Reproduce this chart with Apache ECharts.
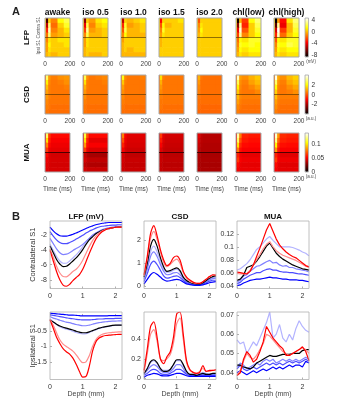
<!DOCTYPE html>
<html>
<head>
<meta charset="utf-8">
<script src="https://cdn.jsdelivr.net/npm/echarts@6.0.0/dist/echarts.min.js"></script>
<style>
  html, body { margin: 0; padding: 0; background: #fff; }
  #chart { width: 354px; height: 400px; }
</style>
</head>
<body>
<div id="chart"></div>
<script>
const conditions = ["awake", "iso 0.5", "iso 1.0", "iso 1.5", "iso 2.0", "chl(low)", "chl(high)"];
const lineColors = ["#000000", "#b3b3ff", "#8080ff", "#4d4dff", "#0000ff", "#ff8c8c", "#ff0000"];
const drawOrder = [1, 2, 3, 4, 0, 5, 6];

// time bin edges (ms) of the heatmap cells; rows 0-3 contra S1, rows 4-7 ipsi S1
const timeEdges = [0, 8, 25, 45, 100, 150, 200];

const lfpMaps = [
  [[0.5,-7.5,0.5,-1.0,1.5,2.5],[0.5,-5.0,3.0,-1.5,0.5,2.0],[0.5,-3.0,4.0,-1.0,0.0,1.0],[0.0,-1.5,3.0,-0.5,0.0,0.5],
   [0.0,-1.0,1.0,0.5,1.0,1.0],[0.0,-0.5,1.5,0.5,0.5,1.0],[0.0,-0.5,1.0,0.5,0.5,0.5],[0.0,0.0,0.5,0.0,0.5,0.5]],
  [[0.5,-6.0,0.5,-0.5,1.0,1.5],[0.5,-4.0,2.5,-1.0,0.5,1.0],[0.5,-2.5,3.5,-0.5,0.0,0.5],[0.0,-1.0,2.5,0.0,0.0,0.5],
   [0.0,-0.5,1.0,0.5,0.5,0.5],[0.0,-0.5,1.0,0.5,0.5,0.5],[0.0,0.0,0.5,0.5,0.5,0.5],[0.0,0.0,0.5,0.0,0.0,0.5]],
  [[0.5,-5.0,0.5,0.0,0.5,1.0],[0.5,-3.0,2.0,-0.5,0.0,0.5],[0.5,-2.0,2.5,0.0,0.0,0.5],[0.0,-1.0,1.5,0.0,0.0,0.0],
   [0.0,-0.5,0.5,0.5,0.5,0.5],[0.0,0.0,0.5,0.5,0.5,0.5],[0.0,0.0,0.5,0.0,0.5,0.5],[0.0,0.0,0.0,0.0,0.0,0.0]],
  [[0.5,-3.5,0.5,0.5,0.5,1.0],[0.5,-2.0,1.5,0.0,0.5,0.5],[0.5,-1.0,2.0,0.5,0.5,0.5],[0.5,-0.5,1.0,0.5,0.5,0.5],
   [0.5,0.0,0.5,0.5,0.5,0.5],[0.5,0.0,0.5,0.5,0.5,0.5],[0.5,0.5,0.5,0.5,0.5,0.5],[0.5,0.5,0.5,0.5,0.5,0.5]],
  [[0.5,-2.0,0.5,0.5,0.5,0.5],[0.5,-1.0,1.0,0.5,0.5,0.5],[0.5,-0.5,1.5,0.5,0.5,0.5],[0.5,0.0,1.0,0.5,0.5,0.5],
   [0.5,0.5,0.5,0.5,0.5,0.5],[0.5,0.5,0.5,0.5,0.5,0.5],[0.5,0.5,0.5,0.5,0.5,0.5],[0.5,0.5,0.5,0.5,0.5,0.5]],
  [[0.5,-8.5,0.0,-2.5,1.5,3.0],[0.5,-6.0,3.5,-3.0,0.5,2.5],[0.5,-4.0,4.5,-2.0,0.5,2.0],[0.0,-2.5,3.5,-1.0,0.5,1.5],
   [0.0,-1.5,1.5,1.0,2.0,2.0],[0.0,-1.0,2.0,1.5,2.0,1.5],[0.0,-0.5,1.5,1.0,1.5,1.5],[0.0,0.0,1.0,0.5,1.0,1.0]],
  [[0.5,-9.0,-0.5,-3.5,1.0,3.0],[0.5,-7.0,3.5,-4.0,0.0,2.5],[0.5,-4.5,4.8,-2.5,0.0,2.0],[0.0,-3.0,4.0,-1.5,0.5,1.5],
   [0.0,-2.0,1.5,1.0,2.0,2.0],[0.0,-1.0,2.0,1.5,2.5,2.0],[0.0,-0.5,1.5,1.0,1.5,1.5],[0.0,0.0,1.0,0.5,1.0,1.0]]
];

const csdMaps = [
  [[0.5,3.0,0.9,0.6,0.8,0.9],[0.5,2.0,0.7,0.5,0.6,0.8],[0.5,1.4,0.6,0.5,0.5,0.6],[0.5,1.0,0.6,0.5,0.5,0.5],
   [0.5,0.9,0.6,0.5,0.5,0.5],[0.5,0.7,0.5,0.5,0.5,0.5],[0.4,0.6,0.5,0.4,0.4,0.4],[0.4,0.5,0.4,0.4,0.4,0.4]],
  [[0.5,2.8,0.8,0.5,0.6,0.7],[0.5,1.8,0.6,0.5,0.5,0.6],[0.5,1.2,0.6,0.5,0.5,0.5],[0.5,0.9,0.5,0.5,0.5,0.5],
   [0.5,0.8,0.5,0.5,0.5,0.5],[0.5,0.6,0.5,0.5,0.5,0.5],[0.4,0.5,0.4,0.4,0.4,0.4],[0.4,0.5,0.4,0.4,0.4,0.4]],
  [[0.5,2.3,0.7,0.5,0.5,0.6],[0.5,1.5,0.6,0.5,0.5,0.5],[0.5,1.0,0.5,0.5,0.5,0.5],[0.5,0.8,0.5,0.5,0.5,0.5],
   [0.5,0.7,0.5,0.5,0.5,0.5],[0.5,0.6,0.5,0.5,0.5,0.5],[0.4,0.5,0.4,0.4,0.4,0.4],[0.4,0.4,0.4,0.4,0.4,0.4]],
  [[0.5,1.8,0.6,0.5,0.5,0.5],[0.5,1.2,0.5,0.5,0.5,0.5],[0.5,0.9,0.5,0.5,0.5,0.5],[0.5,0.7,0.5,0.5,0.5,0.5],
   [0.5,0.6,0.5,0.5,0.5,0.5],[0.5,0.5,0.5,0.5,0.5,0.5],[0.4,0.5,0.4,0.4,0.4,0.4],[0.4,0.4,0.4,0.4,0.4,0.4]],
  [[0.4,1.2,0.5,0.4,0.4,0.4],[0.4,0.9,0.4,0.4,0.4,0.4],[0.4,0.7,0.4,0.4,0.4,0.4],[0.4,0.6,0.4,0.4,0.4,0.4],
   [0.4,0.5,0.4,0.4,0.4,0.4],[0.4,0.4,0.4,0.4,0.4,0.4],[0.3,0.4,0.3,0.3,0.3,0.3],[0.3,0.3,0.3,0.3,0.3,0.3]],
  [[0.5,3.8,1.0,0.8,1.2,1.5],[0.5,2.8,0.8,0.6,1.0,1.3],[0.5,2.0,0.7,0.5,0.7,1.0],[0.5,1.5,0.6,0.5,0.5,0.7],
   [0.5,1.3,0.7,0.6,0.6,0.6],[0.5,1.0,0.6,0.5,0.5,0.5],[0.4,0.7,0.5,0.4,0.4,0.4],[0.4,0.6,0.4,0.4,0.4,0.4]],
  [[0.5,4.0,1.1,0.8,1.3,1.6],[0.5,3.0,0.9,0.6,1.1,1.4],[0.5,2.2,0.7,0.5,0.8,1.1],[0.5,1.6,0.6,0.5,0.6,0.8],
   [0.5,1.4,0.7,0.6,0.6,0.6],[0.5,1.0,0.6,0.5,0.5,0.5],[0.4,0.8,0.5,0.4,0.4,0.4],[0.4,0.6,0.4,0.4,0.4,0.4]]
];

const muaMaps = [
  [[0.05,0.12,0.065,0.055,0.055,0.055],[0.05,0.1,0.06,0.052,0.052,0.052],[0.048,0.08,0.055,0.05,0.05,0.05],[0.046,0.065,0.05,0.048,0.048,0.048],
   [0.044,0.055,0.046,0.044,0.044,0.044],[0.045,0.05,0.046,0.045,0.045,0.045],[0.044,0.048,0.045,0.044,0.044,0.044],[0.045,0.047,0.045,0.045,0.045,0.045]],
  [[0.05,0.115,0.07,0.055,0.055,0.055],[0.046,0.1,0.06,0.048,0.048,0.048],[0.05,0.085,0.056,0.052,0.052,0.052],[0.045,0.065,0.05,0.046,0.046,0.046],
   [0.035,0.042,0.037,0.035,0.035,0.035],[0.04,0.045,0.041,0.04,0.04,0.04],[0.037,0.04,0.038,0.037,0.037,0.037],[0.042,0.044,0.042,0.042,0.042,0.042]],
  [[0.045,0.08,0.052,0.047,0.047,0.047],[0.045,0.07,0.05,0.046,0.046,0.046],[0.044,0.06,0.048,0.045,0.045,0.045],[0.043,0.052,0.045,0.043,0.043,0.043],
   [0.04,0.045,0.041,0.04,0.04,0.04],[0.042,0.045,0.042,0.042,0.042,0.042],[0.041,0.043,0.041,0.041,0.041,0.041],[0.042,0.043,0.042,0.042,0.042,0.042]],
  [[0.043,0.065,0.047,0.044,0.044,0.044],[0.043,0.058,0.046,0.043,0.043,0.043],[0.042,0.052,0.044,0.042,0.042,0.042],[0.041,0.047,0.042,0.041,0.041,0.041],
   [0.039,0.042,0.039,0.039,0.039,0.039],[0.04,0.042,0.04,0.04,0.04,0.04],[0.039,0.041,0.039,0.039,0.039,0.039],[0.04,0.041,0.04,0.04,0.04,0.04]],
  [[0.038,0.048,0.04,0.038,0.038,0.038],[0.038,0.045,0.039,0.038,0.038,0.038],[0.037,0.042,0.038,0.037,0.037,0.037],[0.037,0.04,0.037,0.037,0.037,0.037],
   [0.035,0.037,0.035,0.035,0.035,0.035],[0.036,0.037,0.036,0.036,0.036,0.036],[0.035,0.036,0.035,0.035,0.035,0.035],[0.036,0.037,0.036,0.036,0.036,0.036]],
  [[0.055,0.13,0.08,0.06,0.058,0.058],[0.055,0.12,0.07,0.058,0.056,0.056],[0.052,0.1,0.062,0.055,0.054,0.054],[0.05,0.08,0.056,0.052,0.052,0.052],
   [0.048,0.06,0.05,0.048,0.048,0.048],[0.05,0.065,0.052,0.05,0.05,0.05],[0.048,0.055,0.049,0.048,0.048,0.048],[0.049,0.052,0.049,0.049,0.049,0.049]],
  [[0.056,0.135,0.085,0.062,0.06,0.06],[0.055,0.125,0.075,0.06,0.058,0.058],[0.053,0.105,0.065,0.056,0.055,0.055],[0.05,0.085,0.058,0.052,0.052,0.052],
   [0.047,0.06,0.05,0.047,0.047,0.047],[0.05,0.066,0.052,0.05,0.05,0.05],[0.047,0.055,0.048,0.047,0.047,0.047],[0.048,0.052,0.048,0.048,0.048,0.048]]
];

// panel B: depth profiles (mm), one array per condition in the order of `conditions`
const depth = [0, 0.1, 0.2, 0.3, 0.4, 0.5, 0.6, 0.7, 0.8, 0.9, 1.0, 1.1, 1.2, 1.3, 1.4, 1.5, 1.6, 1.7, 1.8, 1.9, 2.0, 2.1, 2.2];

const lfpContra = [
  [-3.5,-4.4,-5.3,-5.9,-6.25,-6.2,-5.9,-5.5,-5.1,-4.6,-4.0,-3.3,-2.7,-2.3,-1.9,-1.65,-1.45,-1.3,-1.2,-1.1,-1.05,-1.0,-1.0],
  [-3.3,-4.1,-4.9,-5.5,-5.8,-5.8,-5.5,-5.1,-4.7,-4.2,-3.6,-3.0,-2.5,-2.1,-1.8,-1.55,-1.4,-1.25,-1.15,-1.1,-1.0,-1.0,-0.95],
  [-2.5,-3.2,-3.9,-4.4,-4.65,-4.6,-4.4,-4.1,-3.85,-3.6,-3.3,-2.9,-2.5,-2.1,-1.8,-1.55,-1.35,-1.2,-1.1,-1.0,-0.95,-0.9,-0.9],
  [-1.6,-2.2,-2.7,-3.05,-3.2,-3.2,-3.05,-2.85,-2.6,-2.35,-2.1,-1.8,-1.55,-1.35,-1.15,-1.0,-0.9,-0.85,-0.8,-0.75,-0.75,-0.7,-0.7],
  [-1.0,-1.5,-1.9,-2.15,-2.2,-2.2,-2.1,-1.95,-1.8,-1.6,-1.4,-1.2,-1.0,-0.85,-0.7,-0.6,-0.5,-0.45,-0.4,-0.4,-0.4,-0.4,-0.4],
  [-3.9,-5.0,-6.2,-7.1,-7.55,-7.6,-7.3,-6.9,-6.6,-6.1,-5.4,-4.5,-3.6,-2.8,-2.2,-1.8,-1.5,-1.3,-1.2,-1.1,-1.05,-1.0,-1.0],
  [-4.1,-5.5,-6.9,-8.0,-8.7,-8.85,-8.6,-8.1,-7.7,-7.3,-6.6,-5.6,-4.5,-3.5,-2.6,-2.0,-1.6,-1.35,-1.2,-1.1,-1.05,-1.0,-1.0]
];
const csdContra = [
  [0.4,1.0,1.75,2.05,1.75,1.25,0.85,0.65,0.68,0.75,0.8,0.68,0.4,0.25,0.17,0.12,0.1,0.1,0.15,0.25,0.35,0.42,0.45],
  [0.35,0.85,1.5,1.75,1.5,1.1,0.75,0.6,0.62,0.7,0.75,0.62,0.38,0.22,0.15,0.1,0.08,0.08,0.13,0.22,0.3,0.38,0.4],
  [0.3,0.75,1.3,1.5,1.3,0.95,0.65,0.5,0.52,0.58,0.6,0.5,0.32,0.2,0.13,0.09,0.07,0.07,0.12,0.2,0.28,0.33,0.35],
  [0.2,0.55,0.95,1.1,0.95,0.7,0.45,0.35,0.38,0.43,0.45,0.38,0.25,0.15,0.1,0.07,0.06,0.06,0.1,0.15,0.22,0.26,0.26],
  [0.1,0.3,0.5,0.6,0.52,0.4,0.28,0.22,0.24,0.28,0.3,0.27,0.18,0.1,0.07,0.05,0.04,0.04,0.06,0.1,0.15,0.18,0.2],
  [0.45,1.2,2.1,2.4,2.05,1.5,1.05,0.85,0.95,1.1,1.18,1.0,0.6,0.35,0.22,0.15,0.12,0.12,0.2,0.3,0.4,0.48,0.5],
  [0.5,1.3,2.3,2.65,2.2,1.6,1.15,0.9,1.0,1.25,1.32,1.15,0.65,0.4,0.27,0.18,0.13,0.12,0.2,0.3,0.42,0.5,0.48]
];
const muaContra = [
  [0.048,0.05,0.056,0.068,0.07,0.072,0.078,0.085,0.093,0.101,0.106,0.098,0.09,0.085,0.081,0.078,0.075,0.072,0.07,0.068,0.066,0.065,0.064],
  [0.064,0.066,0.07,0.074,0.08,0.088,0.096,0.1,0.106,0.112,0.116,0.11,0.105,0.1,0.1,0.1,0.1,0.099,0.097,0.095,0.092,0.09,0.086],
  [0.046,0.048,0.055,0.057,0.062,0.066,0.07,0.071,0.074,0.077,0.079,0.075,0.076,0.072,0.07,0.071,0.068,0.068,0.066,0.065,0.064,0.063,0.061],
  [0.043,0.045,0.05,0.053,0.056,0.058,0.06,0.06,0.063,0.065,0.066,0.064,0.064,0.062,0.061,0.061,0.06,0.06,0.059,0.058,0.058,0.057,0.056],
  [0.04,0.041,0.044,0.046,0.048,0.049,0.05,0.05,0.051,0.052,0.053,0.052,0.052,0.051,0.05,0.05,0.049,0.049,0.049,0.048,0.048,0.047,0.046],
  [0.059,0.058,0.058,0.059,0.064,0.072,0.08,0.088,0.097,0.104,0.108,0.1,0.094,0.09,0.087,0.085,0.083,0.081,0.079,0.076,0.073,0.07,0.068],
  [0.061,0.06,0.059,0.058,0.062,0.072,0.085,0.098,0.112,0.126,0.136,0.124,0.112,0.103,0.097,0.092,0.088,0.085,0.083,0.079,0.075,0.071,0.069]
];
const lfpIpsi = [
  [-0.12,-0.2,-0.27,-0.33,-0.37,-0.4,-0.43,-0.46,-0.5,-0.53,-0.55,-0.55,-0.52,-0.48,-0.44,-0.4,-0.37,-0.35,-0.33,-0.31,-0.3,-0.3,-0.3],
  [-0.1,-0.2,-0.28,-0.35,-0.4,-0.43,-0.46,-0.5,-0.54,-0.57,-0.59,-0.58,-0.54,-0.49,-0.45,-0.41,-0.38,-0.36,-0.34,-0.32,-0.31,-0.3,-0.3],
  [-0.02,-0.07,-0.1,-0.14,-0.17,-0.2,-0.22,-0.25,-0.28,-0.3,-0.32,-0.32,-0.3,-0.27,-0.24,-0.22,-0.2,-0.19,-0.18,-0.17,-0.17,-0.16,-0.16],
  [0.04,0.02,0.0,-0.02,-0.04,-0.06,-0.08,-0.09,-0.11,-0.12,-0.13,-0.13,-0.13,-0.12,-0.11,-0.1,-0.1,-0.09,-0.09,-0.09,-0.08,-0.08,-0.08],
  [0.09,0.08,0.07,0.06,0.05,0.04,0.03,0.03,0.02,0.01,0.0,0.0,0.0,0.0,0.0,0.0,0.0,0.0,0.01,0.01,0.01,0.01,0.01],
  [-0.1,-0.3,-0.55,-0.78,-0.92,-1.0,-1.07,-1.15,-1.27,-1.42,-1.53,-1.5,-1.3,-1.0,-0.78,-0.66,-0.6,-0.57,-0.55,-0.54,-0.53,-0.52,-0.52],
  [-0.13,-0.4,-0.7,-0.9,-1.07,-1.17,-1.25,-1.38,-1.58,-1.82,-2.0,-1.98,-1.65,-1.15,-0.85,-0.72,-0.67,-0.64,-0.63,-0.62,-0.61,-0.6,-0.6]
];
const csdIpsi = [
  [0.05,0.1,0.17,0.19,0.16,0.1,0.07,0.07,0.09,0.14,0.19,0.19,0.14,0.07,0.04,0.04,0.03,0.04,0.05,0.04,0.04,0.05,0.05],
  [0.05,0.1,0.16,0.18,0.15,0.1,0.08,0.08,0.09,0.14,0.18,0.18,0.13,0.07,0.04,0.04,0.04,0.05,0.06,0.05,0.04,0.05,0.05],
  [0.04,0.08,0.12,0.14,0.12,0.08,0.06,0.06,0.07,0.1,0.14,0.14,0.1,0.05,0.04,0.03,0.03,0.04,0.04,0.04,0.04,0.04,0.04],
  [0.03,0.05,0.08,0.09,0.08,0.05,0.04,0.04,0.05,0.07,0.09,0.09,0.07,0.04,0.03,0.03,0.02,0.03,0.03,0.03,0.03,0.03,0.03],
  [0.01,0.03,0.04,0.05,0.045,0.03,0.025,0.025,0.03,0.04,0.05,0.05,0.04,0.025,0.02,0.02,0.02,0.02,0.02,0.02,0.02,0.02,0.02],
  [0.06,0.25,0.45,0.5,0.38,0.2,0.18,0.2,0.24,0.36,0.56,0.62,0.4,0.16,0.08,0.06,0.05,0.07,0.1,0.07,0.07,0.08,0.08],
  [0.08,0.3,0.53,0.58,0.42,0.2,0.15,0.22,0.27,0.42,0.66,0.68,0.45,0.18,0.09,0.06,0.05,0.06,0.13,0.07,0.08,0.08,0.09]
];
const muaIpsi = [
  [0.044,0.044,0.043,0.0425,0.042,0.043,0.045,0.046,0.047,0.048,0.049,0.0485,0.0485,0.049,0.0495,0.0495,0.0495,0.05,0.05,0.05,0.0515,0.052,0.052],
  [0.057,0.055,0.056,0.05,0.053,0.056,0.054,0.058,0.062,0.066,0.0715,0.058,0.06,0.065,0.058,0.056,0.06,0.057,0.063,0.067,0.064,0.062,0.061],
  [0.043,0.045,0.044,0.042,0.043,0.044,0.045,0.044,0.046,0.047,0.046,0.047,0.045,0.046,0.047,0.046,0.047,0.046,0.047,0.046,0.047,0.048,0.047],
  [0.042,0.044,0.042,0.041,0.042,0.043,0.042,0.043,0.044,0.045,0.044,0.045,0.044,0.045,0.044,0.045,0.046,0.045,0.046,0.045,0.046,0.047,0.046],
  [0.04,0.041,0.04,0.039,0.04,0.041,0.04,0.041,0.042,0.041,0.042,0.043,0.042,0.043,0.042,0.043,0.044,0.043,0.044,0.044,0.043,0.046,0.045],
  [0.039,0.041,0.046,0.05,0.048,0.047,0.049,0.052,0.055,0.06,0.059,0.057,0.055,0.053,0.051,0.05,0.049,0.05,0.051,0.052,0.053,0.052,0.05],
  [0.0385,0.04,0.047,0.051,0.049,0.0455,0.047,0.051,0.056,0.064,0.061,0.058,0.056,0.054,0.0525,0.049,0.049,0.05,0.051,0.052,0.0535,0.051,0.0463]
];

const FONT = "Liberation Sans, Arial, sans-serif";
// matlab "hot"
const hot = ["#000000", "#550000", "#aa0000", "#ff0000", "#ff5500", "#ffaa00", "#ffff00", "#ffff80", "#ffffff"];

// layout
const mapLeft = [45, 83, 121, 159, 197, 236, 274];
const mapTop = [18, 75, 133];
const mapW = 25, mapH = 39;
const cbarLeft = 305, cbarW = 3.5;
const plotLeft = [50, 144, 237];
const plotTop = [221, 312];
const plotW = 72, plotH = 67.5;

const mapRows = [
  { maps: lfpMaps, min: -8.8, max: 4.9, ticks: [-8, -4, 0, 4], unit: "(mV)" },
  { maps: csdMaps, min: -4, max: 4.2, ticks: [-2, 0, 2], unit: "(a.u.)" },
  { maps: muaMaps, min: 0, max: 0.142, ticks: [0, 0.05, 0.1], unit: "(a.u.)" }
];

const lineRows = [
  [
    { vals: lfpContra, min: -9.15, max: -0.2, ticks: [-8, -6, -4, -2] },
    { vals: csdContra, min: -0.1, max: 2.85, ticks: [0, 1, 2] },
    { vals: muaContra, min: 0.0355, max: 0.14, ticks: [0.04, 0.06, 0.08, 0.1, 0.12] }
  ],
  [
    { vals: lfpIpsi, min: -2.08, max: 0.13, ticks: [-1.5, -1, -0.5] },
    { vals: csdIpsi, min: -0.013, max: 0.68, ticks: [0, 0.2, 0.4] },
    { vals: muaIpsi, min: 0.0365, max: 0.0715, ticks: [0.04, 0.05, 0.06, 0.07] }
  ]
];

function renderCell(params, api) {
  const p0 = api.coord([api.value(0), api.value(2)]);
  const p1 = api.coord([api.value(1), api.value(3)]);
  return {
    type: "rect",
    shape: {
      x: Math.min(p0[0], p1[0]),
      y: Math.min(p0[1], p1[1]),
      width: Math.abs(p1[0] - p0[0]) + 0.6,
      height: Math.abs(p1[1] - p0[1]) + 0.6
    },
    style: { fill: api.visual("color") }
  };
}

const grid = [], xAxis = [], yAxis = [], series = [], visualMap = [], graphic = [];

// ---- panel A heatmaps
mapRows.forEach((row, r) => {
  const seriesIdx = [];
  row.maps.forEach((m, c) => {
    const gi = grid.length;
    grid.push({
      left: mapLeft[c], top: mapTop[r], width: mapW, height: mapH,
      show: true, borderColor: "#a8a8a8", borderWidth: 1, backgroundColor: "transparent", z: 5
    });
    xAxis.push({
      gridIndex: gi, type: "value", min: 0, max: 200, interval: 200,
      axisLine: { show: false }, axisTick: { show: false }, splitLine: { show: false },
      axisLabel: { fontSize: 6.5, color: "#444", margin: 4, fontFamily: FONT }
    });
    // divider between contra and ipsi S1
    yAxis.push({
      gridIndex: gi, type: "value", min: 0, max: 8, interval: 4, inverse: true, z: 6,
      axisLine: { show: false }, axisTick: { show: false }, axisLabel: { show: false },
      splitLine: {
        show: true, showMinLine: false, showMaxLine: false,
        lineStyle: { color: r === 2 ? "rgba(40,0,0,0.8)" : "rgba(70,45,0,0.6)", width: 1 }
      }
    });
    const data = [];
    m.forEach((vals, i) => vals.forEach((v, j) => data.push([timeEdges[j], timeEdges[j + 1], i, i + 1, v])));
    seriesIdx.push(series.length);
    series.push({
      type: "custom", xAxisIndex: gi, yAxisIndex: gi, renderItem: renderCell,
      data: data, clip: true, silent: true, animation: false
    });
  });

  visualMap.push({
    type: "continuous", min: row.min, max: row.max, dimension: 4, seriesIndex: seriesIdx,
    inRange: { color: hot }, left: cbarLeft, top: mapTop[r], itemWidth: cbarW, itemHeight: mapH,
    padding: 0, calculable: false, hoverLink: false, text: null, showLabel: false
  });

  // colorbar ticks and frame
  const gi = grid.length;
  grid.push({
    left: cbarLeft, top: mapTop[r], width: cbarW, height: mapH,
    show: true, borderColor: "#a8a8a8", borderWidth: 0.8, backgroundColor: "transparent", z: 10
  });
  xAxis.push({ gridIndex: gi, type: "value", min: 0, max: 1, show: false });
  yAxis.push({
    gridIndex: gi, type: "value", min: row.min, max: row.max, position: "right",
    axisLine: { show: false }, splitLine: { show: false },
    axisTick: { show: false },
    axisLabel: { customValues: row.ticks, fontSize: 6.5, color: "#333", margin: 3, fontFamily: FONT }
  });
  graphic.push({
    type: "text", x: cbarLeft + 6, y: mapTop[r] + mapH + 5,
    style: { text: row.unit, fontSize: 4.5, fill: "#444", align: "center", verticalAlign: "middle", fontFamily: FONT }
  });
});

// ---- panel B depth profiles
lineRows.forEach((row, r) => {
  row.forEach((p, c) => {
    const gi = grid.length;
    grid.push({
      left: plotLeft[c], top: plotTop[r], width: plotW, height: plotH,
      show: true, borderColor: "#b0b0b0", borderWidth: 0.8, backgroundColor: "transparent", z: 5
    });
    xAxis.push({
      gridIndex: gi, type: "value", min: 0, max: 2.2,
      axisLine: { show: false }, splitLine: { show: false },
      axisTick: { show: true, inside: true, length: 2, customValues: [0, 1, 2], lineStyle: { color: "#b0b0b0" } },
      axisLabel: { customValues: [0, 1, 2], fontSize: 7, color: "#333", margin: 4, fontFamily: FONT }
    });
    yAxis.push({
      gridIndex: gi, type: "value", min: p.min, max: p.max,
      axisLine: { show: false }, splitLine: { show: false },
      axisTick: { show: true, inside: true, length: 2, customValues: p.ticks, lineStyle: { color: "#b0b0b0" } },
      axisLabel: { customValues: p.ticks, fontSize: 7, color: "#333", margin: 3, fontFamily: FONT }
    });
    drawOrder.forEach(k => {
      series.push({
        type: "line", name: conditions[k], xAxisIndex: gi, yAxisIndex: gi,
        data: depth.map((d, i) => [d, p.vals[k][i]]),
        showSymbol: false, smooth: c === 2 ? false : 0.3, silent: true, animation: false,
        lineStyle: { color: lineColors[k], width: 1.2 }, itemStyle: { color: lineColors[k] }
      });
    });
  });
});

// ---- texts
function txt(text, x, y, size, opts) {
  opts = opts || {};
  graphic.push({
    type: "text", x: x, y: y, rotation: opts.rot || 0,
    style: {
      text: text, fontSize: size, fontWeight: opts.bold ? "bold" : "normal",
      fill: opts.color || "#222", align: opts.align || "center", verticalAlign: "middle", fontFamily: FONT
    }
  });
}
txt("A", 16, 12, 11, { bold: true });
txt("B", 16, 217, 11, { bold: true });
conditions.forEach((name, c) => {
  txt(name, mapLeft[c] + mapW / 2, 13, 8.5, { bold: true, color: "#111" });
  txt("Time (ms)", mapLeft[c] + mapW / 2, 189, 6.5, { color: "#444" });
});
["LFP", "CSD", "MUA"].forEach((name, r) => {
  txt(name, 27, mapTop[r] + mapH / 2, 8, { bold: true, rot: Math.PI / 2, color: "#111" });
});
txt("Contra S1", 39, mapTop[0] + mapH / 4, 4.8, { rot: Math.PI / 2, color: "#555" });
txt("Ipsi S1", 39, mapTop[0] + mapH * 3 / 4, 4.8, { rot: Math.PI / 2, color: "#555" });
["LFP (mV)", "CSD", "MUA"].forEach((name, c) => {
  txt(name, plotLeft[c] + plotW / 2, 217, 8, { bold: true, color: "#111" });
  txt("Depth (mm)", plotLeft[c] + plotW / 2, 394, 7, { color: "#444" });
});
txt("Contralateral S1", 33, plotTop[0] + plotH / 2, 7.5, { rot: Math.PI / 2, color: "#333" });
txt("Ipsilateral S1", 33, plotTop[1] + plotH / 2, 7.5, { rot: Math.PI / 2, color: "#333" });

const myChart = echarts.init(document.getElementById("chart"), null, { renderer: "canvas" });
myChart.setOption({
  animation: false,
  backgroundColor: "#fff",
  textStyle: { fontFamily: FONT },
  grid: grid,
  xAxis: xAxis,
  yAxis: yAxis,
  visualMap: visualMap,
  series: series,
  graphic: graphic
});
</script>
</body>
</html>
